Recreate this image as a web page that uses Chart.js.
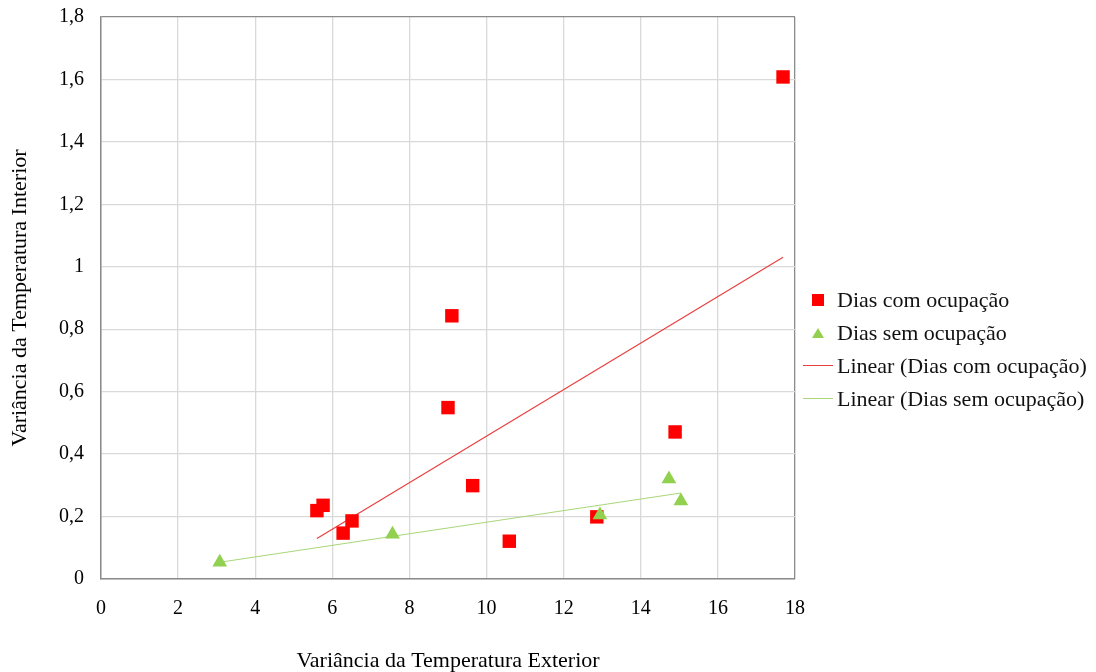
<!DOCTYPE html>
<html>
<head>
<meta charset="utf-8">
<script src="https://cdn.jsdelivr.net/npm/chart.js@4.4.1/dist/chart.umd.min.js"></script>
<style>
  body { margin: 0; background: #fff; }
  #wrap { position: relative; width: 1096px; height: 672px; }
  .legend { position: absolute; left: 801px; top: 283px; font-family: "Liberation Serif", "Times New Roman", serif; font-size: 22px; color: #111; }
  .row { display: flex; align-items: center; height: 33px; line-height: 33px; white-space: nowrap; }
  .sym { width: 34px; display: flex; justify-content: center; align-items: center; margin-right: 2px; }
  .sq { width: 12px; height: 12px; background: #ff0000; }
  .tri { width: 0; height: 0; border-left: 6px solid transparent; border-right: 6px solid transparent; border-bottom: 10px solid #92d050; }
  .ln { width: 30px; height: 1px; }
</style>
</head>
<body>
<div id="wrap">
  <canvas id="chart" width="1096" height="672"></canvas>
  <div class="legend">
    <div class="row"><span class="sym"><span class="sq"></span></span>Dias com ocupação</div>
    <div class="row"><span class="sym"><span class="tri"></span></span>Dias sem ocupação</div>
    <div class="row"><span class="sym"><span class="ln" style="background:#e8403f"></span></span>Linear (Dias com ocupação)</div>
    <div class="row"><span class="sym"><span class="ln" style="background:#a9d77a"></span></span>Linear (Dias sem ocupação)</div>
  </div>
</div>
<script>
// values
const comX = [5.60, 5.76, 6.28, 6.51, 9.00, 9.10, 9.64, 10.59, 12.86, 14.89, 17.69];
const comY = [0.219, 0.236, 0.147, 0.186, 0.549, 0.843, 0.299, 0.121, 0.199, 0.471, 1.608];
const semX = [3.08, 7.56, 12.94, 14.73, 15.04];
const semY = [0.054, 0.143, 0.205, 0.320, 0.250];

const xTicks = [0, 2, 4, 6, 8, 10, 12, 14, 16, 18];
const yTicks = [0, 0.2, 0.4, 0.6, 0.8, 1, 1.2, 1.4, 1.6, 1.8];

const serif = '"Liberation Serif", "Times New Roman", serif';

function points(xs, ys) {
  return xs.map((x, i) => ({ x: x, y: ys[i] }));
}

// least squares trendline over the range of the series
function trend(xs, ys) {
  const n = xs.length;
  const mx = xs.reduce((a, b) => a + b, 0) / n;
  const my = ys.reduce((a, b) => a + b, 0) / n;
  let sxy = 0, sxx = 0;
  xs.forEach((x, i) => {
    sxy += (x - mx) * (ys[i] - my);
    sxx += (x - mx) * (x - mx);
  });
  const b = sxy / sxx;
  const a = my - b * mx;
  const lo = Math.min(...xs), hi = Math.max(...xs);
  return [{ x: lo, y: a + b * lo }, { x: hi, y: a + b * hi }];
}

const ctx = document.getElementById('chart').getContext('2d');
new Chart(ctx, {
  type: 'scatter',
  data: {
    datasets: [
      {
        label: 'Dias sem ocupação',
        data: points(semX, semY),
        pointStyle: 'triangle',
        pointRadius: 8.5,
        backgroundColor: '#92d050',
        borderColor: '#92d050',
        borderWidth: 0,
        order: 0,
      },
      {
        label: 'Dias com ocupação',
        data: points(comX, comY),
        pointStyle: 'rect',
        pointRadius: 9.5,
        backgroundColor: '#ff0000',
        borderColor: '#ff0000',
        borderWidth: 0,
        order: 1,
      },
      {
        label: 'Linear (Dias com ocupação)',
        data: trend(comX, comY),
        showLine: true,
        pointRadius: 0,
        borderColor: '#e8403f',
        borderWidth: 1.2,
        order: 2,
      },
      {
        label: 'Linear (Dias sem ocupação)',
        data: trend(semX, semY),
        showLine: true,
        pointRadius: 0,
        borderColor: '#a9d77a',
        borderWidth: 1.2,
        order: 3,
      },
    ],
  },
  options: {
    responsive: false,
    animation: false,
    layout: { autoPadding: false, padding: { top: 17, right: 301, bottom: 0, left: 0 } },
    plugins: {
      legend: { display: false },
      tooltip: { enabled: false },
    },
    scales: {
      x: {
        type: 'linear',
        min: 0,
        max: 18,
        afterBuildTicks: (scale) => { scale.ticks = xTicks.map(v => ({ value: v })); },
        afterFit: (scale) => {
          scale.height = 93;
          scale.paddingTop = 0;
        },
        ticks: { color: '#000', font: { family: serif, size: 20 }, padding: 18 },
        grid: {
          drawTicks: false,
          lineWidth: 1.3,
          color: (c) => c.index === xTicks.length - 1 ? '#8a8a8a' : '#d9d9d9',
        },
        border: { display: true, color: '#8a8a8a', width: 1.5 },
        title: {
          display: true,
          text: 'Variância da Temperatura Exterior',
          color: '#000',
          font: { family: serif, size: 22 },
          padding: { top: 0, bottom: -2 },
        },
      },
      y: {
        type: 'linear',
        min: 0,
        max: 1.8,
        afterBuildTicks: (scale) => { scale.ticks = yTicks.map(v => ({ value: v })); },
        afterFit: (scale) => {
          scale.width = 101;
          scale.paddingTop = 0;
          scale.paddingBottom = 0;
        },
        ticks: {
          color: '#000',
          font: { family: serif, size: 20 },
          padding: 17,
          callback: (v) => String(Number(v.toFixed(1))).replace('.', ','),
        },
        grid: {
          drawTicks: false,
          lineWidth: 1.3,
          color: (c) => c.index === yTicks.length - 1 ? '#8a8a8a' : '#d9d9d9',
        },
        border: { display: true, color: '#8a8a8a', width: 1.5 },
        title: {
          display: true,
          text: 'Variância da Temperatura Interior',
          color: '#000',
          font: { family: serif, size: 22 },
          padding: { top: 7, bottom: 0 },
        },
      },
    },
  },
});
</script>
</body>
</html>
